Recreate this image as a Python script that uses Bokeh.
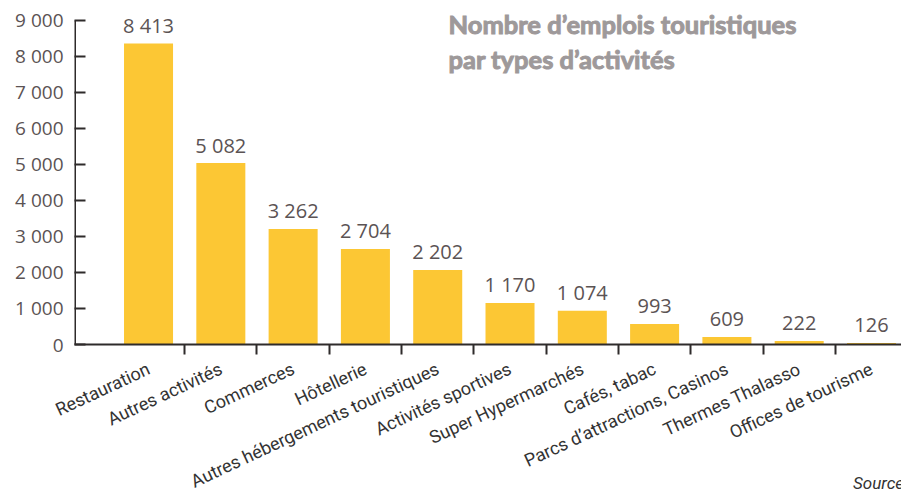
from bokeh.plotting import figure
from bokeh.models import Range1d, FixedTicker, Label, ColumnDataSource
from bokeh.core.properties import value
from bokeh.embed import file_html
from bokeh.resources import INLINE

categories = ["Restauration", "Autres activités", "Commerces", "Hôtellerie",
              "Autres hébergements touristiques", "Activités sportives",
              "Super Hypermarchés", "Cafés, tabac", "Parcs d’attractions, Casinos",
              "Thermes Thalasso", "Offices de tourisme"]
label_texts = ["8 413", "5 082", "3 262", "2 704", "2 202", "1 170",
               "1 074", "993", "609", "222", "126"]
bar_values = [8360, 5040, 3210, 2655, 2070, 1155, 935, 570, 210, 100, 45]
y_ticks = [0, 1000, 2000, 3000, 4000, 5000, 6000, 7000, 8000, 9000]
y_tick_labels = ["0", "1 000", "2 000", "3 000", "4 000", "5 000",
                 "6 000", "7 000", "8 000", "9 000"]
title_lines = ["Nombre d’emplois touristiques", "par types d’activités"]
source_text = "Source"

xs = list(range(len(categories)))
source = ColumnDataSource(dict(x=xs, top=bar_values, lab=label_texts))

TXT = "#5b5354"
AX = "#2e2b2b"
X0, X1 = -1.024, 10.415
Y0, Y1 = 0, 9333

p = figure(width=901, height=496, output_backend="svg", toolbar_location=None,
           x_range=Range1d(X0, X1), y_range=Range1d(Y0, Y1),
           min_border_left=74, min_border_right=0, min_border_top=8,
           min_border_bottom=152)
p.outline_line_color = None
p.xgrid.visible = False
p.ygrid.visible = False
p.background_fill_color = "white"
p.border_fill_color = "white"

p.vbar(x="x", top="top", width=0.678, source=source,
       fill_color="#fcc734", line_color=None)
p.text(x="x", y="top", text="lab", source=source, text_align="center",
       text_baseline="alphabetic", y_offset=-18, text_color=TXT,
       text_font=value("Open Sans"), text_font_size="20px")

# y axis line only up to the last tick
p.segment(x0=[X0], y0=[y_ticks[0]], x1=[X0], y1=[y_ticks[-1]],
          line_width=3, line_color=AX)

ya = p.yaxis[0]
ya.ticker = FixedTicker(ticks=y_ticks)
ya.major_label_overrides = {t: l for t, l in zip(y_ticks, y_tick_labels)}
ya.axis_line_color = None
ya.major_tick_in = 11
ya.major_tick_out = 0
ya.minor_tick_line_color = None
ya.major_tick_line_width = 2
ya.major_tick_line_color = AX
ya.major_label_standoff = 11
ya.major_label_text_font = "Open Sans"
ya.major_label_text_font_size = "19px"
ya.major_label_text_color = TXT

# x axis: labels at centers, ticks (minor) at boundaries
xa = p.xaxis[0]
xa.ticker = FixedTicker(ticks=xs, minor_ticks=[i + 0.5 for i in xs])
xa.major_label_overrides = {i: c for i, c in zip(xs, categories)}
xa.major_tick_line_color = None
xa.major_tick_in = 0
xa.major_tick_out = 0
xa.minor_tick_in = 0
xa.minor_tick_out = 10
xa.minor_tick_line_width = 2
xa.minor_tick_line_color = AX
xa.axis_line_width = 2
xa.axis_line_color = AX
xa.major_label_orientation = 0.436
xa.major_label_standoff = 13
xa.major_label_text_font = "Roboto"
xa.major_label_text_font_size = "18px"
xa.major_label_text_color = "#333333"
# source note, bottom right (padded so that it ends at the right edge)
xa.axis_label = source_text + "\u00a0" * 11
xa.axis_label_align = "end"
xa.axis_label_standoff = -31
xa.axis_label_text_font = "Roboto"
xa.axis_label_text_font_style = "italic"
xa.axis_label_text_font_size = "17px"
xa.axis_label_text_color = "#333333"

# title
for t, yv in zip(title_lines, [8890, 7920]):
    p.add_layout(Label(x=4.149, y=yv, text=t, text_font="Lato",
                       text_font_style="bold", text_font_size="25.5px",
                       text_outline_color="#9e999a",
                       text_color="#9e999a", text_baseline="alphabetic"))

open("out.html", "w").write(file_html(p, INLINE))
